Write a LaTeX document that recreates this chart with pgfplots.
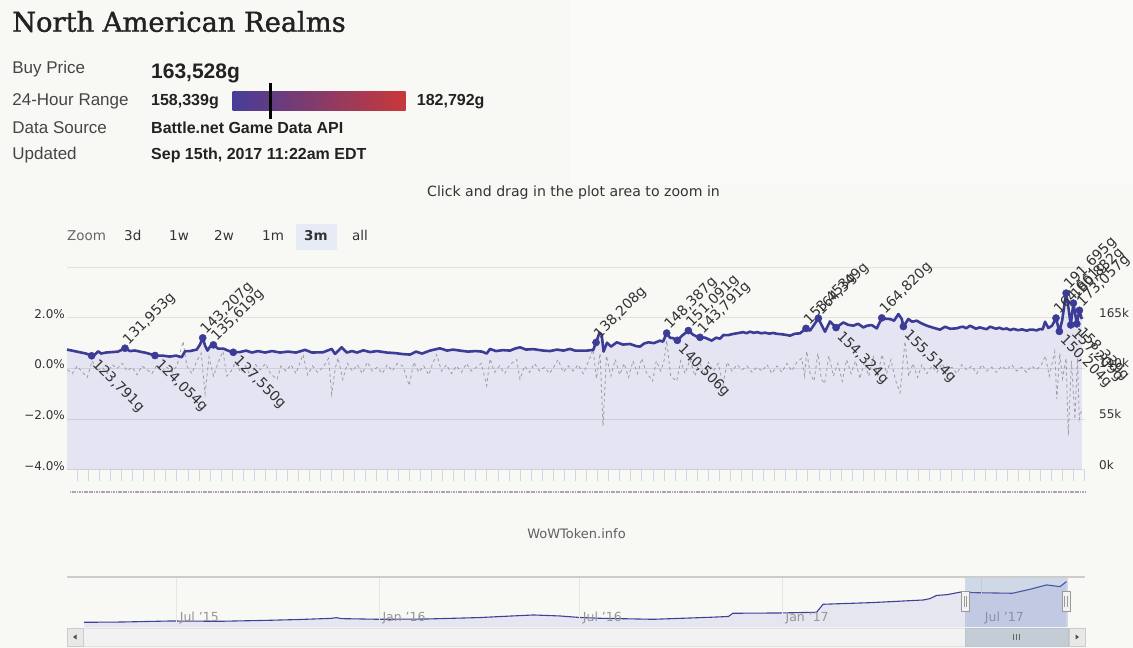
\documentclass[border=0pt]{standalone}
\usepackage{fontspec}
\setmainfont{DejaVu Sans}
\newfontfamily\hdr{Liberation Sans}
\newfontfamily\slab[FakeBold=1.4]{DejaVu Serif}
\usepackage{pgfplots}
\pgfplotsset{compat=1.18}
\usepackage{pgfplotstable}

\definecolor{bg}{HTML}{F8F9F5}
\definecolor{hdrpanel}{HTML}{FAFBF9}
\definecolor{linecol}{HTML}{3C3C96}
\definecolor{fillcol}{HTML}{E4E4F2}
\definecolor{txt}{HTML}{333333}
\definecolor{lbl}{HTML}{454545}
\definecolor{val}{HTML}{222222}
\definecolor{ticcol}{HTML}{CCD6EB}
\definecolor{navfill}{HTML}{E6E6F1}
\definecolor{navline}{HTML}{40409A}
\definecolor{zoombtn}{HTML}{E6EBF5}
\definecolor{zoomgray}{HTML}{666666}
\definecolor{pctcol}{HTML}{9C9CA2}
\definecolor{navgrid}{HTML}{E6E6E6}
\definecolor{navlbl}{HTML}{969696}
\definecolor{dotred}{HTML}{C8A0A8}
\definecolor{dotblue}{HTML}{98A0CC}
\definecolor{wow}{HTML}{5F5F5F}
\definecolor{navtop}{HTML}{CCCCCC}
\definecolor{selcol}{HTML}{6685C2}
\definecolor{hfill}{HTML}{F2F2F2}
\definecolor{hdraw}{HTML}{999999}
\definecolor{sbdraw}{HTML}{E1E1E1}
\definecolor{btnfill}{HTML}{E8E8E8}
\definecolor{btndraw}{HTML}{CCCCCC}
\definecolor{arrowc}{HTML}{505050}
\definecolor{thumb}{HTML}{C4CCD6}
\definecolor{thumbdraw}{HTML}{BEC4CC}
\definecolor{thumbline}{HTML}{646464}
\definecolor{gl}{HTML}{463D98}
\definecolor{gm}{HTML}{8C3A82}
\definecolor{gr}{HTML}{C9383A}

\pgfplotstableread{
d p
-0.93 130500
-0.48 129400
0.24 127600
0.79 126200
1.30 123791
1.60 125100
1.90 128700
2.14 126200
2.59 127300
3.14 127800
3.68 128300
4.31 131953
4.76 128900
5.20 129500
5.66 128300
6.30 126700
7.02 124054
7.65 124000
8.37 122900
8.92 124000
9.43 122200
9.73 128700
10.18 128900
10.79 130500
11.08 135900
11.33 143207
11.54 134800
11.76 129400
11.99 133700
12.29 135619
12.71 131600
13.19 131600
13.61 129400
14.09 127550
14.70 127800
15.24 129400
15.78 127300
16.32 128900
16.96 127300
17.59 128900
18.31 127300
19.03 128300
19.76 127300
20.57 130200
21.20 127300
22.20 127600
22.98 131200
23.28 125800
23.88 133000
24.34 127300
24.82 128900
25.27 127300
25.84 129700
26.44 127800
27.07 128900
27.95 127300
28.70 126700
29.42 125600
30.06 125100
30.60 128300
31.14 126200
31.86 129400
32.76 131900
33.40 129400
33.94 130500
34.57 129400
35.29 128300
36.01 128900
36.56 128300
36.98 126200
37.28 131200
37.82 128900
38.45 129900
39.09 129400
39.54 131600
39.99 133000
40.53 130500
41.17 131000
42.10 129400
42.70 128900
43.34 130500
43.90 129400
44.51 131200
44.96 129400
45.41 129400
46.04 129400
46.61 130200
46.86 138208
47.17 148800
47.37 146700
47.54 128300
47.85 138000
48.21 133700
48.73 138400
49.30 135900
49.93 136600
50.47 134300
50.83 133700
51.19 137000
51.58 138400
52.09 137500
52.64 140200
52.91 139100
53.24 148387
53.54 143400
53.81 142900
54.20 140506
54.63 145600
55.20 151091
55.62 146700
55.98 144500
56.25 143791
56.70 143400
57.31 140200
57.70 143400
58.06 142300
58.36 146300
58.78 146100
59.20 147400
59.57 148100
60.14 149400
60.45 148300
60.77 149900
61.10 148700
61.40 149400
61.80 148200
62.12 148800
62.50 147800
62.87 148500
63.20 147600
63.57 147200
64.00 146500
64.38 145600
64.83 147700
65.28 148100
65.83 153453
66.19 151000
66.55 157400
66.94 164349
67.27 156400
67.54 149900
67.99 161000
68.54 154324
69.20 159900
69.62 157400
70.10 156400
70.53 158500
71.01 154500
71.34 156400
71.76 157100
72.22 153500
72.67 164820
73.06 163900
73.42 163600
73.78 161800
74.17 169000
74.48 163600
74.62 155514
75.07 163600
75.41 160700
75.83 161800
76.22 159100
76.74 156400
77.31 154200
77.93 152100
78.39 155300
78.84 153100
79.44 153500
79.75 154800
80.01 155300
80.30 153600
80.64 156400
81.19 153100
81.50 154600
81.84 153500
82.15 152600
82.45 155300
82.99 153100
83.30 154200
83.62 152600
83.95 153400
84.26 151700
84.60 152900
84.98 151500
85.35 152400
85.76 151000
86.05 152200
86.33 152100
86.65 151300
86.97 152800
87.20 152300
87.42 160700
87.72 153900
88.05 156400
88.41 164661
88.71 150204
88.96 161800
89.32 191695
89.53 176100
89.74 157209
89.98 180832
90.29 158339
90.52 173057
90.74 163528
}\pricedata

\pgfplotstableread{
d p l
4.31 131953 131,953g
11.33 143207 143,207g
12.29 135619 135,619g
46.86 138208 138,208g
53.24 148387 148,387g
55.20 151091 151,091g
56.25 143791 143,791g
65.83 153453 153,453g
66.94 164349 164,349g
72.67 164820 164,820g
88.41 164661 164,661g
89.32 191695 191,695g
89.98 180832 180,832g
90.52 173057 173,057g
}\maxdata

\pgfplotstableread{
d p l
1.30 123791 123,791g
7.02 124054 124,054g
14.09 127550 127,550g
54.20 140506 140,506g
68.54 154324 154,324g
74.62 155514 155,514g
88.71 150204 150,204g
89.74 157209 157,209g
90.29 158339 158,339g
}\mindata

\pgfplotstableread{
d v
-0.9 -0.05
-0.45 -0.2
0.0 0.1
0.45 -0.15
0.9 -0.35
1.35 0.3
1.8 -0.1
2.25 0.05
2.7 -0.2
3.15 0.15
3.6 0.0
4.05 0.2
4.5 -0.1
4.95 0.05
5.4 -0.25
5.85 0.1
6.3 -0.05
6.75 -0.2
7.2 0.15
7.65 -0.1
8.1 0.05
8.55 -0.15
9.0 0.1
9.55 1.07
9.9 0.1
10.35 -0.2
10.8 0.3
11.2 0.6
11.54 -1.0
11.9 0.45
12.3 -0.3
12.7 0.2
13.16 0.68
13.5 -0.3
13.9 -0.1
14.3 0.25
14.75 -0.15
15.2 0.1
15.65 -0.3
16.1 0.15
16.55 -0.05
17.0 0.2
17.45 -0.2
18.04 -0.43
18.4 0.1
18.85 -0.1
19.3 0.15
19.75 -0.2
20.39 0.55
20.8 -0.25
21.25 0.1
21.7 -0.15
22.2 0.05
22.7 0.4
22.98 -1.02
23.3 0.0
23.55 0.42
23.98 -0.43
24.4 0.2
24.85 -0.1
25.3 0.15
25.75 -0.2
26.2 0.25
26.65 -0.1
27.1 0.05
27.55 -0.2
28.0 0.15
28.45 -0.1
28.9 0.2
29.4 0.1
29.99 -0.67
30.4 0.25
30.85 -0.15
31.3 0.1
31.75 -0.25
32.1 0.2
32.47 0.55
32.9 -0.1
33.35 0.15
33.8 -0.2
34.25 0.1
34.7 -0.15
35.15 0.2
35.6 -0.1
36.05 0.05
36.5 0.2
36.98 -0.68
37.28 0.38
37.7 -0.15
38.15 0.1
38.6 -0.2
39.05 0.15
39.69 0.35
39.99 -0.43
40.4 0.1
40.85 -0.15
41.3 0.2
41.75 -0.1
42.2 0.05
42.65 -0.2
43.1 0.1
43.42 0.35
43.9 -0.15
44.35 0.1
44.8 -0.1
45.25 0.15
45.7 -0.2
46.15 0.25
46.59 0.75
46.9 -0.4
47.22 0.6
47.49 -2.26
47.8 0.5
48.2 -0.3
48.6 0.35
49.0 -0.25
49.4 0.2
49.8 -0.35
50.2 0.3
50.6 -0.2
51.0 0.4
51.4 -0.15
51.97 -0.5
52.3 0.3
52.7 -0.1
53.0 0.3
53.24 1.1
53.6 -0.3
54.15 -0.5
54.5 0.3
54.9 -0.2
55.35 0.35
55.8 -0.3
56.2 0.3
56.6 -0.25
57.0 0.25
57.45 -0.1
57.9 0.2
58.33 -0.63
58.7 0.25
59.15 -0.1
59.6 0.15
60.05 -0.05
60.5 0.1
60.95 -0.15
61.4 0.05
61.85 -0.1
62.3 0.15
62.75 -0.2
63.2 0.1
63.65 -0.15
64.1 0.2
64.55 -0.1
65.0 0.25
65.44 0.4
65.7 -0.3
65.89 0.68
66.2 -0.2
66.55 -0.5
66.9 0.6
67.2 -0.4
67.5 -0.6
67.9 0.5
68.3 -0.3
68.7 0.2
69.1 -0.5
69.5 0.35
69.9 -0.2
70.3 0.3
70.7 -0.4
71.1 0.25
71.5 -0.3
71.9 0.45
72.3 -0.25
72.7 0.55
73.1 -0.2
73.5 0.35
73.9 -0.45
74.32 -0.95
74.77 1.07
75.1 -0.3
75.5 0.2
75.9 -0.35
76.3 0.15
76.75 -0.2
77.2 0.1
77.65 -0.15
78.1 0.2
78.55 -0.1
79.0 0.05
79.45 -0.2
79.9 0.15
80.35 -0.05
80.8 0.1
81.25 -0.2
81.7 0.15
82.15 -0.1
82.6 0.05
83.05 -0.15
83.5 0.1
83.95 -0.05
84.4 0.15
84.85 -0.1
85.3 0.05
85.75 -0.15
86.2 0.1
86.65 -0.05
87.1 0.15
87.45 0.5
87.8 -0.3
88.3 0.68
88.48 -1.2
88.75 0.6
89.0 -0.4
89.32 0.4
89.52 -2.65
89.8 0.3
90.12 -2.0
90.35 0.4
90.51 -2.0
90.74 -1.6
}\pctdata

\pgfplotstableread{
d p
-84 18500
-50 19500
-6 23300
39 22200
80 25500
112 28900
140 33000
145 35600
150 32000
184 29600
227 30700
275 36000
300 41000
324 45600
348 41900
366 36300
385 33300
433 29600
484 37000
501 40000
505 51900
548 53000
581 55600
587 85200
630 91100
678 101000
684 106000
690 117800
700 121000
714 131900
723 128100
759 125900
775 140700
790 156700
802 150400
808 168900
}\navdata

\pgfplotsset{
  mainax/.style={at={(67pt,178pt)}, anchor=south west, scale only axis,
    width=1018pt, height=203pt, xmin=-0.93, xmax=91.03,
    axis line style={draw=none}},
}

\begin{document}
\begin{tikzpicture}
\begin{scope}[x=1pt,y=1pt]
\fill[bg] (0,0) rectangle (1133,648);
\fill[hdrpanel] (570,463) rectangle (1133,648);
% header
\node[anchor=base west, inner sep=0, text=val, font=\slab\fontsize{27.3}{30}\selectfont] at (12,616.3) {North American Realms};
\begin{scope}[every node/.style={anchor=base west, inner sep=0}]
\node[text=lbl, font=\hdr\fontsize{17}{20}\selectfont] at (12.2,574) {Buy Price};
\node[text=lbl, font=\hdr\fontsize{17}{20}\selectfont] at (12.2,542) {24-Hour Range};
\node[text=lbl, font=\hdr\fontsize{17}{20}\selectfont] at (12.2,514.7) {Data Source};
\node[text=lbl, font=\hdr\fontsize{17}{20}\selectfont] at (12.2,488.7) {Updated};
\node[text=val, font=\hdr\bfseries\fontsize{21}{24}\selectfont] at (151,569.7) {163,528g};
\node[text=val, font=\hdr\bfseries\fontsize{16}{19}\selectfont] at (151,542) {158,339g};
\node[text=val, font=\hdr\bfseries\fontsize{16}{19}\selectfont] at (416.7,542) {182,792g};
\node[text=val, font=\hdr\bfseries\fontsize{16}{19}\selectfont] at (151,514.7) {Battle.net Game Data API};
\node[text=val, font=\hdr\bfseries\fontsize{16}{19}\selectfont] at (151,488.7) {Sep 15th, 2017 11:22am EDT};
\end{scope}
\shade[left color=gl, middle color=gm, right color=gr] (232.6,537) rectangle (405.5,556.3);
\draw[black, line width=2.5pt] (270.7,528.7) -- (270.7,565.3);
% click and drag
\node[anchor=base, inner sep=0, text=txt, font=\fontsize{14.1}{15}\selectfont] at (573.5,451) {Click and drag in the plot area to zoom in};
% zoom buttons
\fill[zoombtn] (296,398) rectangle (337,424);
\begin{scope}[every node/.style={anchor=base west, inner sep=0, text=txt, font=\fontsize{13.5}{15}\selectfont}]
\node[text=zoomgray] at (67,407) {Zoom};
\node at (124,407) {3d};
\node at (169,407) {1w};
\node at (214,407) {2w};
\node at (262,407) {1m};
\node[font=\bfseries\fontsize{13.5}{15}\selectfont] at (304,407) {3m};
\node at (352,407) {all};
\end{scope}
\end{scope}

% axis A: fill
\begin{axis}[mainax, ymin=0, ymax=220000, xtick=\empty, ytick=\empty]
\addplot[fill=fillcol, draw=none] table[x=d,y=p]{\pricedata} \closedcycle;
\end{axis}

% axis B: percent
\begin{axis}[mainax, ymin=-4, ymax=4, axis y line*=left, axis x line*=bottom,
  axis line style={draw=none},
  xtick=\empty, ytick={-4,-2,0,2,4},
  yticklabels={−4.0\%,−2.0\%,0.0\%,2.0\%,{}},
  ymajorgrids, grid style={draw=black, draw opacity=0.09, line width=1pt},
  ytick style={draw=none},
  yticklabel style={font=\fontsize{12}{14}\selectfont, text=txt, anchor=east, yshift=4pt, inner sep=2pt}]
\addplot[color=pctcol, dash pattern=on 3pt off 3pt, line width=0.8pt] table[x=d,y=v]{\pctdata};
\end{axis}

% axis C: price line
\begin{axis}[mainax, ymin=0, ymax=220000, axis y line*=right, axis x line*=bottom,
  axis line style={draw=none}, clip=false,
  xtick={0,...,91}, xticklabels={}, tick align=outside, major tick length=11pt,
  xtick style={draw=ticcol, line width=0.9pt},
  ytick={0,55000,110000,165000}, yticklabels={0k,55k,110k,165k},
  ytick style={draw=none}, scaled y ticks=false,
  yticklabel style={font=\fontsize{12}{14}\selectfont, text=txt, anchor=west, yshift=5pt, inner sep=3pt}]
\addplot[linecol, line width=2.6pt, line join=round] table[x=d,y=p]{\pricedata};
\addplot[only marks, mark=*, mark size=3.6pt, color=linecol,
  nodes near coords, point meta=explicit symbolic,
  every node near coord/.append style={yshift=5pt, rotate=45, anchor=west, inner sep=1pt,
    font=\fontsize{14}{16}\selectfont, text=txt}]
  table[x=d,y=p,meta=l]{\maxdata};
\addplot[only marks, mark=*, mark size=3.6pt, color=linecol,
  nodes near coords, point meta=explicit symbolic,
  every node near coord/.append style={xshift=2pt, yshift=-6pt, rotate=-45, anchor=west, inner sep=1pt,
    font=\fontsize{14}{16}\selectfont, text=txt}]
  table[x=d,y=p,meta=l]{\mindata};
\end{axis}

% navigator
\begin{axis}[at={(67pt,20.7pt)}, anchor=south west, scale only axis, axis on top,
  width=1018pt, height=50.3pt, xmin=-99.6, xmax=824.8, ymin=0, ymax=186000,
  axis line style={draw=none}, ytick=\empty,
  xtick={0,184,366,550,731}, xticklabels={Jul '15,Jan '16,Jul '16,Jan '17,Jul '17},
  xmajorgrids, grid style={draw=navgrid, line width=0.8pt},
  tick style={draw=none},
  xticklabel style={anchor=base west, inner sep=0pt, xshift=3pt, yshift=6pt,
    font=\fontsize{12.5}{14}\selectfont, text=navlbl}]
\addplot[fill=navfill, draw=none] table[x=d,y=p]{\navdata} \closedcycle;
\addplot[navline, line width=1.1pt] table[x=d,y=p]{\navdata};
\end{axis}

\begin{scope}[x=1pt,y=1pt]
% dotted label row
\draw[dotred, line width=1.2pt, dash pattern=on 1.2pt off 2.2pt] (70,156) -- (1085,156);
\draw[dotblue, line width=1.2pt, dash pattern=on 1.2pt off 2.2pt, dash phase=1.7pt] (70,156) -- (1085,156);
% WoWToken.info
\node[anchor=base, inner sep=0, text=wow, font=\fontsize{13}{15}\selectfont] at (576.5,109) {WoWToken.info};
% navigator frame
\draw[navtop, line width=1.8pt] (67,71) -- (1085,71);
\fill[selcol, fill opacity=0.28] (965,20.7) rectangle (1068.3,70);
% handles
\foreach \hx in {965.3,1066} {
  \filldraw[fill=hfill, draw=hdraw, line width=0.8pt] (\hx-4,36.3) rectangle (\hx+4,56.3);
  \draw[hdraw, line width=0.7pt] (\hx-1.3,41) -- (\hx-1.3,51.5) (\hx+1.3,41) -- (\hx+1.3,51.5);
}
% scrollbar
\filldraw[fill=hfill, draw=sbdraw, line width=0.6pt] (67,2) rectangle (1085,20);
\filldraw[fill=btnfill, draw=btndraw, line width=0.6pt] (67,2) rectangle (83,20);
\filldraw[fill=btnfill, draw=btndraw, line width=0.6pt] (1069,2) rectangle (1085,20);
\fill[arrowc] (73,11) -- (76.5,13.5) -- (76.5,8.5) -- cycle;
\fill[arrowc] (1079,11) -- (1075.5,13.5) -- (1075.5,8.5) -- cycle;
\filldraw[fill=thumb, draw=thumbdraw, line width=0.6pt] (965,2) rectangle (1068.3,20);
\draw[thumbline, line width=0.7pt] (1013.5,8) -- (1013.5,14) (1016.5,8) -- (1016.5,14) (1019.5,8) -- (1019.5,14);
\end{scope}
\pgfresetboundingbox
\useasboundingbox (0,0) rectangle (1133pt,648pt);
\end{tikzpicture}
\end{document}
